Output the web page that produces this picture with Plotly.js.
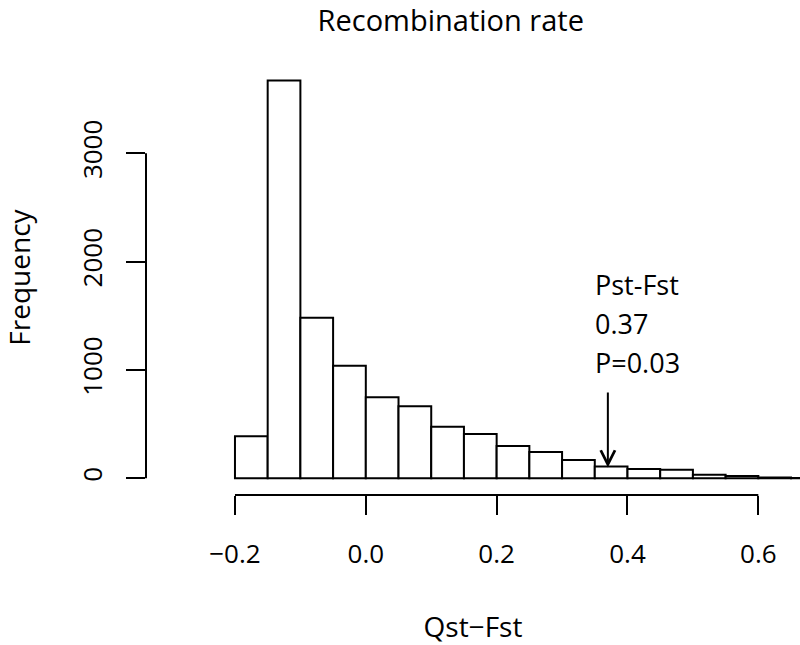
<!DOCTYPE html>
<html><head><meta charset="utf-8">
<script src="https://cdn.plot.ly/plotly-3.0.1.min.js"></script>
<style>html,body{margin:0;padding:0;background:#fff}</style>
</head><body><div id="chart" style="width:800px;height:645px"></div>
<script>
// ---- data ----
const binStarts = [-0.2, -0.15, -0.1, -0.05, 0, 0.05, 0.1, 0.15, 0.2, 0.25, 0.3, 0.35, 0.4, 0.45, 0.5, 0.55, 0.6, 0.65];
const counts    = [388, 3671, 1481, 1038, 748, 665, 477, 410, 299, 244, 170, 108, 87, 78, 34, 22, 8, 3];
const binWidth  = 0.05;
const xTickVals   = [-0.2, 0, 0.2, 0.4, 0.6];
const xTickLabels = ['\u22120.2', '0.0', '0.2', '0.4', '0.6'];
const yTickVals   = [0, 1000, 2000, 3000];
const yTickLabels = ['0', '1000', '2000', '3000'];
const observedValue = 0.37;
const observedLines = ['Pst-Fst', '0.37', 'P=0.03'];
const arrowFromCount = 806;
const arrowToCount = 99;

const FONT = '"Open Sans", sans-serif';
const binCenters = binStarts.map(s => s + binWidth / 2);

const trace = {
  type: 'bar',
  x: binCenters,
  y: counts,
  width: binStarts.map(() => binWidth),
  marker: {color: '#ffffff', line: {color: '#000000', width: 2}},
  hoverinfo: 'x+y'
};

// text lines above the arrow: vertical offsets (px) of each line above the arrow's tail
const lineShifts = [106, 67, 28];

const layout = {
  width: 800, height: 645,
  margin: {l: 146, r: 0, t: 60, b: 150, pad: 0},
  paper_bgcolor: '#ffffff', plot_bgcolor: '#ffffff',
  showlegend: false,
  bargap: 0,
  font: {family: FONT, size: 26, color: '#000000'},
  title: {text: 'Recombination rate', font: {family: FONT, size: 29, color: '#000'},
          xref: 'paper', x: 0.466, xanchor: 'center', yref: 'container', y: 1 - 21/645, yanchor: 'middle'},
  xaxis: {
    range: [-0.336, 0.6637], domain: [0, 1],
    tickmode: 'array', tickvals: xTickVals, ticktext: xTickLabels,
    ticks: 'outside', ticklen: 19, tickwidth: 2, tickcolor: '#000', ticklabelstandoff: 17,
    showline: false, showgrid: false, zeroline: false, automargin: false,
    tickfont: {family: FONT, size: 26, color: '#000'},
    title: {text: 'Qst\u2212Fst', font: {family: FONT, size: 28, color: '#000'}, standoff: 48}
  },
  yaxis: {
    range: [-154, 3861], domain: [0, 1],
    tickmode: 'array', tickvals: yTickVals, ticktext: yTickLabels,
    ticks: 'outside', ticklen: 19, tickwidth: 2, tickcolor: '#000', tickangle: -90, ticklabelstandoff: 14,
    showline: false, showgrid: false, zeroline: false, automargin: false,
    tickfont: {family: FONT, size: 26, color: '#000'},
    title: {text: 'Frequency', font: {family: FONT, size: 28, color: '#000'}, standoff: 41}
  },
  shapes: [
    {type: 'line', xref: 'x', yref: 'paper', x0: xTickVals[0], x1: xTickVals[xTickVals.length - 1], y0: 0, y1: 0,
     line: {color: '#000', width: 2}},
    {type: 'line', xref: 'paper', yref: 'y', x0: 0, x1: 0, y0: yTickVals[0], y1: yTickVals[yTickVals.length - 1],
     line: {color: '#000', width: 2}}
  ],
  annotations: [
    {xref: 'x', yref: 'y', x: observedValue, y: arrowToCount, axref: 'x', ayref: 'y',
     ax: observedValue, ay: arrowFromCount, text: '', showarrow: true,
     arrowhead: 5, arrowsize: 1.4, arrowwidth: 2, arrowcolor: '#000', standoff: 0, startstandoff: 0}
  ].concat(observedLines.map((t, i) => ({
     xref: 'x', yref: 'y', x: observedValue, y: arrowFromCount, xanchor: 'left', yanchor: 'middle',
     xshift: -15, yshift: lineShifts[i], align: 'left', showarrow: false,
     text: t, font: {family: FONT, size: 27, color: '#000'}
  })))
};

Plotly.newPlot('chart', [trace], layout, {displayModeBar: false, staticPlot: true});
</script>
</body></html>
